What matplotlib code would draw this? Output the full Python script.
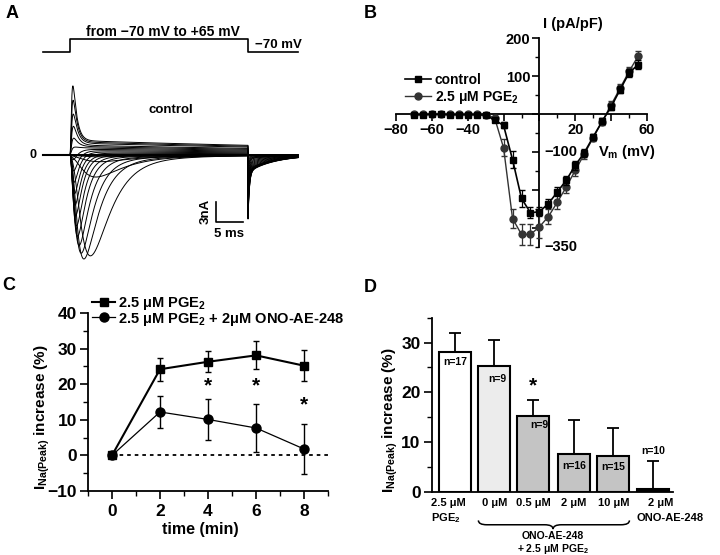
import numpy as np
import matplotlib.pyplot as plt
import matplotlib.transforms as mtransforms
from matplotlib.path import Path
from matplotlib.patches import PathPatch
from matplotlib.lines import Line2D
from matplotlib.ticker import MultipleLocator

plt.rcParams['font.family'] = ['Liberation Sans', 'DejaVu Sans']
plt.rcParams['font.weight'] = 'bold'
plt.rcParams['axes.labelweight'] = 'bold'
plt.rcParams['mathtext.default'] = 'regular'
plt.rcParams['axes.linewidth'] = 1.3

MINUS = '\u2212'

# ---- Panel A: family of Na currents (control), estimated from the traces
step_mv = [-70, -65, -60, -55, -50, -45, -40, -35, -30, -25, -20, -15, -10, -5,
           0, 5, 10, 15, 20, 25, 30, 35, 40, 45, 50, 55, 60, 65]
peak_na = [0, 0, 0, 0, 0, 0, 0, -0.2, -0.8, -2.8, -14.2, -14.7, -14.0, -13.0,
           -11.8, -10.4, -9.0, -7.6, -6.0, -4.4, -2.8, -1.2, 0.5, 1.8, 3.5, 5.2, 7.2, 9.3]
tau_act = [1, 1, 1, 1, 1, 1, 1, 3.2, 3.0, 2.6, 2.2, 1.3, 1.0, 0.8,
           0.65, 0.55, 0.48, 0.42, 0.38, 0.35, 0.32, 0.3, 0.28, 0.27, 0.26, 0.25, 0.24, 0.22]
tau_inact = [1, 1, 1, 1, 1, 1, 1, 6, 6, 5, 3.5, 2.8, 2.4, 2.0,
             1.7, 1.5, 1.3, 1.2, 1.1, 1.0, 0.95, 0.9, 0.85, 0.8, 0.78, 0.75, 0.72, 0.7]
steady_na = [0, 0, 0, 0, 0, 0, 0, -0.1, -0.3, -0.7, -1.2, -1.1, -0.9, -0.7,
             -0.5, -0.3, -0.1, 0.1, 0.3, 0.5, 0.7, 0.9, 1.1, 1.3, 1.5, 1.8, 2.0, 2.2]
tail_fast_na = [0, 0, 0, 0, 0, 0, 0, -0.1, -0.2, -0.4, -0.8, -1.2, -1.6, -2.0,
                -2.5, -3.0, -3.5, -4.0, -4.4, -4.8, -5.2, -5.6, -6.0, -6.3, -6.6, -6.8, -7.0, -7.0]
tail_slow_na = [0, 0, 0, 0, 0, 0, 0, 0, -0.1, -0.2, -0.3, -0.4, -0.5, -0.6,
                -0.8, -1.0, -1.2, -1.4, -1.6, -1.8, -2.0, -2.1, -2.2, -2.3, -2.4, -2.5, -2.5, -2.6]
pulse_ms = 33.4

# ---- Panel B: I-V relation (pA/pF)
iv_mv = [-70, -65, -60, -55, -50, -45, -40, -35, -30, -25, -20, -15, -10,
         -5, 0, 5, 10, 15, 20, 25, 30, 35, 40, 45, 50, 55]
iv_control = [-2, -2, -1, -1, -2, -2, -2, -2, -3, -16, -30, -120, -222,
              -260, -257, -236, -205, -174, -135, -102, -60, -19, 19, 64, 108, 130]
iv_control_err = [2, 2, 2, 2, 2, 2, 2, 2, 3, 5, 8, 22, 22,
                  14, 12, 12, 12, 12, 12, 10, 8, 8, 8, 10, 10, 12]
iv_pge2 = [-1, -1, -1, -1, -1, -1, -1, -1, -2, -10, -89, -275, -317,
           -317, -297, -270, -232, -192, -148, -106, -62, -20, 24, 68, 112, 152]
iv_pge2_err = [2, 2, 2, 2, 2, 2, 2, 2, 3, 6, 22, 24, 28,
               28, 30, 20, 18, 16, 14, 12, 10, 10, 10, 10, 12, 14]

# ---- Panel C: time course of I_Na(peak) increase (%)
time_min = [0, 2, 4, 6, 8]
pge2_inc = [0, 24.2, 26.3, 28.1, 25.2]
pge2_err = [0, 3.3, 3.0, 3.9, 4.3]
ono_inc = [0, 12.2, 10.1, 7.7, 1.8]
ono_err = [0, 4.4, 5.7, 6.8, 7.0]
star_min = [4, 6, 8]
star_pct = [19.4, 19.4, 14.1]

# ---- Panel D: dose dependence
bar_vals = [28.1, 25.2, 15.3, 7.5, 7.2, 0.5]
bar_err = [3.9, 5.3, 3.2, 7.0, 5.6, 5.7]
bar_n = ['n=17', 'n=9', 'n=9', 'n=16', 'n=15', 'n=10']
bar_labels = ['0 μM', '0.5 μM', '2 μM', '10 μM']

fig = plt.figure(figsize=(7.2, 5.55), dpi=100)
W, H = 720.0, 555.0

# ================= Panel A =================
axA = fig.add_axes([0, 1 - 270 / H, 0.5, 270 / H])
px_ms, px_na, x0_px, y0_px = 5.33, 6.67, 70.0, 155.0
axA.set_xlim(-x0_px / px_ms, (360 - x0_px) / px_ms)
axA.set_ylim(-(270 - y0_px) / px_na, y0_px / px_na)
axA.axis('off')

t_pre = np.linspace(-5.1, 0, 20)
t_on = np.linspace(0, pulse_ms, 3000)
t_off = np.linspace(0, 9.4, 800)
for a, ta, th, ss, tf, tsl in zip(peak_na, tau_act, tau_inact, steady_na,
                                  tail_fast_na, tail_slow_na):
    gate = (1 - np.exp(-t_on / ta)) ** 3 * np.exp(-t_on / th)
    gate = gate / gate.max()
    slow_tau = 15.0 if ss < 0 else 80.0
    i_on = a * gate + ss * (1 - np.exp(-t_on / 0.8)) * np.exp(-t_on / slow_tau)
    i_off = tf * np.exp(-t_off / 0.25) + tsl * np.exp(-t_off / 5.0)
    x = np.concatenate([t_on, pulse_ms + t_off])
    y = np.concatenate([i_on, i_off])
    axA.plot(x, y, color='black', lw=0.7)
axA.plot(t_pre, np.zeros_like(t_pre), color='black', lw=1.5)

# voltage protocol
lo, hi = 15.4, 17.4
axA.plot([-5.1, 0, 0, pulse_ms, pulse_ms, pulse_ms + 9.4],
         [lo, lo, hi, hi, lo, lo], color='black', lw=1.2)
axA.text(pulse_ms / 2 + 0.7, 18.4, f'from {MINUS}70 mV to +65 mV', ha='center',
         va='center', fontsize=10)
axA.text(pulse_ms + 1.3, 16.45, f'{MINUS}70 mV', ha='left', va='center', fontsize=9.5)
axA.text(-6.2, 0, '0', ha='right', va='center', fontsize=9)
axA.text(18.9, 6.75, 'control', ha='center', va='center', fontsize=9.5)

# scale bar
sb_x, sb_y = 27.4, -10.0
axA.plot([sb_x, sb_x, sb_x + 5], [sb_y + 3, sb_y, sb_y], color='black', lw=1.2)
axA.text(sb_x - 0.9, sb_y + 1.5, '3nA', rotation=90, ha='right', va='center', fontsize=9.5)
axA.text(sb_x + 2.5, sb_y - 1.0, '5 ms', ha='center', va='top', fontsize=9.5)

# ================= Panel B =================
axB = fig.add_axes([396 / W, 1 - 247 / H, 251 / W, 209 / H])
axB.set_xlim(-80, 60)
axB.set_ylim(-350, 200)
axB.patch.set_alpha(0)
for s in ['top', 'right']:
    axB.spines[s].set_visible(False)
axB.spines['left'].set_position(('data', 0))
axB.spines['bottom'].set_position(('data', 0))
axB.set_xticks([-80, -60, -40, -20, 0, 20, 40, 60])
axB.set_xticklabels([f'{MINUS}80', f'{MINUS}60', f'{MINUS}40', '', '', '20', '', '60'])
axB.xaxis.set_minor_locator(MultipleLocator(10))
axB.set_yticks([-300, -200, -100, 0, 100, 200])
axB.set_yticklabels(['', '', '', '', '100', '200'])
axB.yaxis.set_minor_locator(MultipleLocator(50))
axB.tick_params(axis='both', which='major', direction='out', length=5, width=1.2,
                labelsize=10.5, pad=1.5)
axB.tick_params(axis='both', which='minor', direction='out', length=3, width=1.0)
axB.text(3, -100, f'{MINUS}100', ha='left', va='center', fontsize=10.5)
axB.text(3, -350, f'{MINUS}350', ha='left', va='center', fontsize=10.5)
axB.text(2, 236, 'I (pA/pF)', ha='left', va='center', fontsize=10.5, clip_on=False)
axB.text(32.5, -101, 'V$_m$ (mV)', ha='left', va='center', fontsize=10.5)

pge2_grey = '#333333'
axB.errorbar(iv_mv, iv_pge2, yerr=iv_pge2_err, fmt='-o', color=pge2_grey, ms=5,
             lw=1.0, capsize=2, elinewidth=0.9, zorder=3, clip_on=False)
axB.errorbar(iv_mv, iv_control, yerr=iv_control_err, fmt='-s', color='black', ms=4.5,
             lw=1.2, capsize=2, elinewidth=0.9, zorder=4, clip_on=False)
hB = [Line2D([], [], color='black', marker='s', ms=4.5, lw=1.2),
      Line2D([], [], color=pge2_grey, marker='o', ms=5, lw=1.0)]
axB.legend(hB, ['control', '2.5 μM PGE$_2$'], loc='upper left',
           bbox_to_anchor=(405 / W, 1 - 73 / H), bbox_transform=fig.transFigure,
           frameon=False, fontsize=10, handlelength=1.9, handletextpad=0.25,
           labelspacing=0.15, borderpad=0, borderaxespad=0)

# ================= Panel C =================
axC = fig.add_axes([88 / W, 1 - 491 / H, 240 / W, 178 / H])
axC.set_xlim(-1, 9)
axC.set_ylim(-10, 40)
for s in ['top', 'right']:
    axC.spines[s].set_visible(False)
axC.set_xticks([0, 2, 4, 6, 8])
axC.xaxis.set_minor_locator(MultipleLocator(1))
axC.set_yticks([-10, 0, 10, 20, 30, 40])
axC.yaxis.set_minor_locator(MultipleLocator(5))
axC.tick_params(axis='both', which='major', direction='out', length=6, width=1.2,
                labelsize=12.5)
axC.tick_params(axis='x', which='major', pad=3)
axC.tick_params(axis='y', which='major', pad=2)
axC.tick_params(axis='both', which='minor', direction='out', length=3.5, width=1.0)
axC.axhline(0, xmin=0.1, xmax=1.0, color='black', lw=1.3, ls=(0, (2, 2.2)))
axC.errorbar(time_min, ono_inc, yerr=ono_err, fmt='-o', color='black', ms=6.5,
             lw=0.9, capsize=2.5, elinewidth=1.0, zorder=3)
axC.errorbar(time_min, pge2_inc, yerr=pge2_err, fmt='-s', color='black', ms=6,
             lw=1.5, capsize=2.5, elinewidth=1.0, zorder=4)
for tx, ty in zip(star_min, star_pct):
    axC.text(tx, ty, '*', ha='center', va='center', fontsize=15)
axC.set_xlabel('time (min)', fontsize=11.5)
axC.xaxis.set_label_coords(0.467, -0.175)
axC.set_ylabel('I$_{Na(Peak)}$ increase (%)', fontsize=11)
axC.yaxis.set_label_coords(-0.15, 0.417)
hC = [Line2D([], [], color='black', marker='s', ms=6, lw=1.5),
      Line2D([], [], color='black', marker='o', ms=6.5, lw=0.9)]
axC.legend(hC, ['2.5 μM PGE$_2$', '2.5 μM PGE$_2$ + 2μM ONO-AE-248'], loc='upper left',
           bbox_to_anchor=(92 / W, 1 - 295 / H), bbox_transform=fig.transFigure,
           frameon=False, fontsize=10.5, handlelength=1.6, handletextpad=0.15,
           labelspacing=-0.1, borderpad=0, borderaxespad=0)

# ================= Panel D =================
axD = fig.add_axes([431.7 / W, 1 - 491.7 / H, 241.3 / W, 174 / H])
axD.set_xlim(0, 10)
axD.set_ylim(0, 35)
for s in ['top', 'right']:
    axD.spines[s].set_visible(False)
axD.set_xticks([])
axD.set_yticks([0, 10, 20, 30])
axD.yaxis.set_minor_locator(MultipleLocator(5))
axD.tick_params(axis='y', which='major', direction='out', length=6, width=1.2,
                labelsize=12.5, pad=2)
axD.tick_params(axis='y', which='minor', direction='out', length=3.5, width=1.0)

bar_x = [0.97, 2.6, 4.2, 5.9, 7.53, 9.18]
bar_w = 1.33
bar_colors = ['white', '#ececec', '#c4c4c4', '#c4c4c4', '#c4c4c4', 'black']
axD.errorbar(bar_x, bar_vals, yerr=[np.zeros(len(bar_err)), bar_err], fmt='none',
             ecolor='black', capsize=4.5, elinewidth=1.3, capthick=1.3, zorder=1)
axD.bar(bar_x, bar_vals, width=bar_w, color=bar_colors, edgecolor='black',
        linewidth=1.5, zorder=2)
n_y = [26.0, 22.7, 13.4, 5.1, 4.9, 8.2]
n_dx = [0.0, 0.1, 0.25, 0.0, 0.0, 0.0]
for bx, ny, dx, lab in zip(bar_x, n_y, n_dx, bar_n):
    axD.text(bx + dx, ny, lab, ha='center', va='center', fontsize=7.5, zorder=5)
axD.text(bar_x[2], 21.3, '*', ha='center', va='center', fontsize=15)

blend = mtransforms.blended_transform_factory(axD.transData, axD.transAxes)
axD.text(-0.03, -0.035, '2.5 μM\nPGE$_2$', transform=blend, ha='left', va='top',
         fontsize=8, linespacing=1.35)
for bx, lab in zip(bar_x[1:5], bar_labels):
    axD.text(bx, -0.035, lab, transform=blend, ha='center', va='top', fontsize=8)
axD.text(bar_x[5] + 0.3, -0.035, '2 μM', transform=blend, ha='center', va='top', fontsize=8)
axD.text(bar_x[5] + 0.7, -0.12, 'ONO-AE-248', transform=blend, ha='center', va='top',
         fontsize=8, clip_on=False)

# brace under the ONO-AE-248 + PGE2 group
bx0 = bar_x[1] - bar_w / 2
bx1 = bar_x[4] + bar_w / 2
bxm = 5.03
d = 0.35
y_top, y_mid, y_tip = -0.165, -0.19, -0.215
verts = [(bx0, y_top), (bx0, y_mid), (bx0 + d, y_mid),
         (bxm - d, y_mid), (bxm, y_mid), (bxm, y_tip),
         (bxm, y_mid), (bxm + d, y_mid),
         (bx1 - d, y_mid), (bx1, y_mid), (bx1, y_top)]
codes = [Path.MOVETO, Path.CURVE3, Path.CURVE3,
         Path.LINETO, Path.CURVE3, Path.CURVE3,
         Path.CURVE3, Path.CURVE3,
         Path.LINETO, Path.CURVE3, Path.CURVE3]
axD.add_patch(PathPatch(Path(verts, codes), transform=blend, fill=False,
                        lw=1.1, color='black', clip_on=False))
axD.text(bxm, -0.228, 'ONO-AE-248\n+ 2.5 μM PGE$_2$', transform=blend, ha='center',
         va='top', fontsize=7.5, linespacing=1.05, multialignment='center')

axD.set_ylabel('I$_{Na(Peak)}$ increase (%)', fontsize=11)
axD.yaxis.set_label_coords(-0.131, 0.41)

# panel letters
for lx, ly, lab in [(12, 14, 'A'), (370, 13, 'B'), (9, 286, 'C'), (370, 287, 'D')]:
    fig.text(lx / W, 1 - ly / H, lab, ha='center', va='center', fontsize=13)

fig.savefig('out.png', dpi=100)
